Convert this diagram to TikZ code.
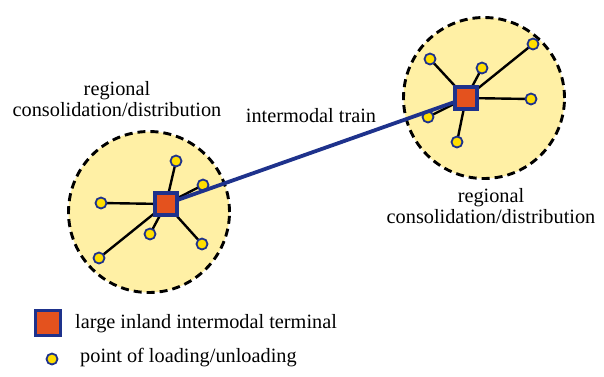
\documentclass[tikz,border=0pt]{standalone}
\usepackage{fontspec}
\setmainfont{Liberation Serif}
\definecolor{navy}{RGB}{30,50,140}
\definecolor{term}{RGB}{228,82,30}
\definecolor{dotfill}{RGB}{255,222,0}
\definecolor{region}{RGB}{255,240,165}
\begin{document}
\begin{tikzpicture}[x=1pt,y=-1pt,
  regionc/.style={circle,draw=black,fill=region,line width=2.9pt,dash pattern=on 8pt off 5pt,minimum size=161pt,inner sep=0pt},
  terminal/.style={rectangle,draw=navy,fill=term,line width=3.2pt,minimum size=22pt,inner sep=0pt},
  pt/.style={circle,draw=navy,fill=dotfill,line width=1.8pt,minimum size=11pt,inner sep=0pt},
  spoke/.style={line width=2.4pt,black},
  train/.style={line width=3.8pt,navy},
  lbl/.style={font=\fontsize{20.3}{21.5}\selectfont,align=center,inner sep=0pt}]
\useasboundingbox (0,0) rectangle (604,376);
% regions
\node[regionc] (R1) at (149,212) {};
\node[regionc] (R2) at (484,98) {};
% terminal centres
\coordinate (T1c) at (166,204);
\coordinate (T2c) at (466,98);
% left points
\coordinate (a1) at (176,161);
\coordinate (a2) at (203,185);
\coordinate (a3) at (101,203);
\coordinate (a4) at (150,234);
\coordinate (a5) at (202,244);
\coordinate (a6) at (99,258);
% right points
\coordinate (b1) at (430,59);
\coordinate (b2) at (482,68);
\coordinate (b3) at (533,44);
\coordinate (b4) at (531,99);
\coordinate (b5) at (428,117);
\coordinate (b6) at (457,142);
% spokes
\foreach \p in {a1,a2,a3,a4,a5,a6} \draw[spoke] (T1c) -- (\p);
\foreach \p in {b1,b2,b3,b4,b5,b6} \draw[spoke] (T2c) -- (\p);
% points over spokes
\foreach \p in {a1,a2,a3,a4,a5,a6,b1,b2,b3,b4,b5,b6}
  \node[pt] (p\p) at (\p) {};
% train
\draw[train] (T1c) -- (T2c);
\node[terminal] (T1) at (T1c) {};
\node[terminal] (T2) at (T2c) {};
% labels
\node[lbl] (L1) at (117,99) {regional\\consolidation/distribution};
\node[lbl] (L2) at (491,206) {regional\\consolidation/distribution};
\node[lbl] (L3) at (311,116) {intermodal train};
% legend
\node[terminal,minimum size=25pt] (LT) at (48,323) {};
\node[lbl,anchor=west] (LTt) at (75,324) {large inland intermodal terminal};
\node[pt] (LP) at (52,359) {};
\node[lbl,anchor=west] (LPt) at (80,358) {point of loading/unloading};
\end{tikzpicture}
\end{document}
